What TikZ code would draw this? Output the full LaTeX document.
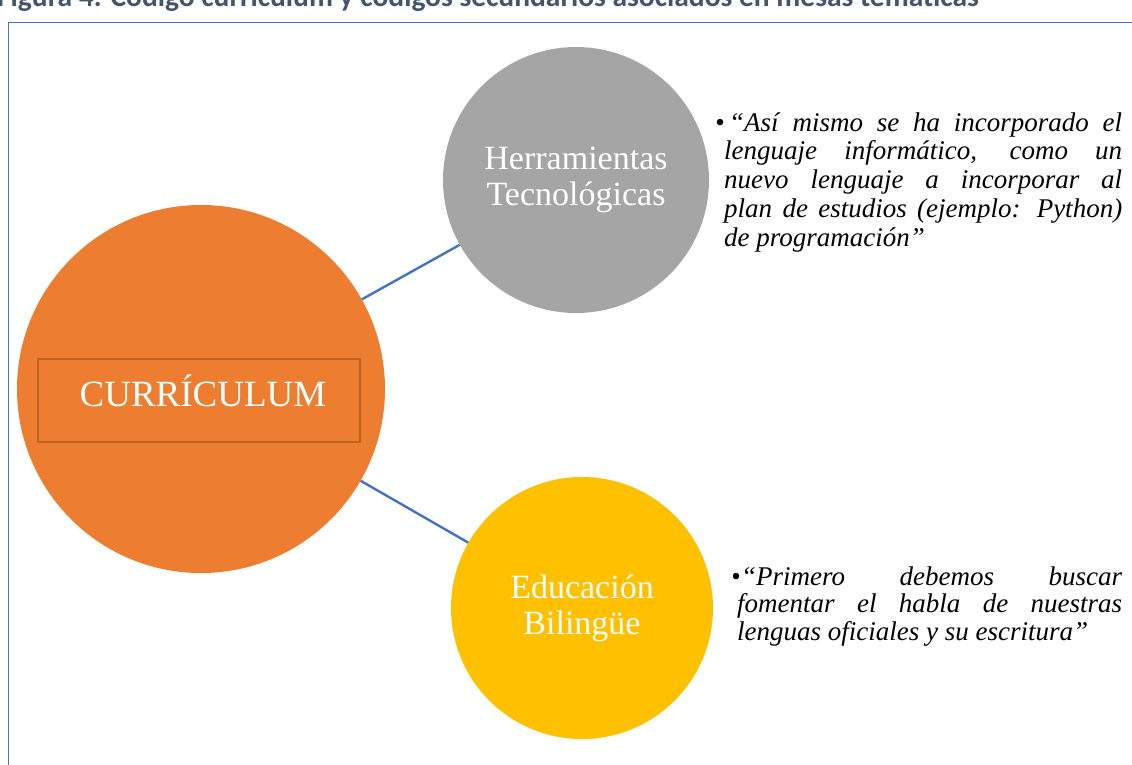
\documentclass[tikz,border=0pt]{standalone}
\usepackage{fontspec}
\setmainfont{Liberation Serif}
\newfontfamily\titlefont{Carlito}
\definecolor{frameblue}{HTML}{4472C4}
\definecolor{orng}{HTML}{ED7D31}
\definecolor{orngdark}{HTML}{C0631F}
\definecolor{gry}{HTML}{A5A5A5}
\definecolor{yel}{HTML}{FFC000}
\definecolor{ttl}{HTML}{44546A}
\tikzset{
  bubble/.style={circle, inner sep=0pt, text=white, align=center, font=\fontsize{34}{36}\selectfont},
  link/.style={draw=frameblue, line width=2.4pt},
  quote/.style={inner sep=0pt, anchor=base west, font=\itshape\fontsize{27}{29}\selectfont},
}
\begin{document}
\begin{tikzpicture}[x=1pt,y=-1pt]
\useasboundingbox (0,0) rectangle (1132,764);
\fill[white] (0,0) rectangle (1132,764);
% title (cut off at top)
\node[anchor=base west, inner sep=0pt, text=ttl, font=\titlefont\bfseries\fontsize{29.5}{29.5}\selectfont] (title) at (-3,6) {Figura 4. Código currículum y códigos secundarios asociados en mesas temáticas};
% frame
\draw[frameblue, line width=1.5pt] (1150,22.5) -- (8.5,22.5) -- (8.5,780);
% circles
\node[bubble, fill=orng, minimum size=368pt] (cur) at (201,389) {};
\node[bubble, fill=gry, minimum size=266pt] (her) at (576,180) {Herramientas\\Tecnológicas};
\node[bubble, fill=yel, minimum size=262pt] (edu) at (582,608) {Educación\\Bilingüe};
% connectors
\draw[link] (cur) -- (her);
\draw[link] (cur) -- (edu);
% inner rectangle
\node[draw=orngdark, line width=2pt, minimum width=322pt, minimum height=83pt, inner sep=0pt] (box) at (199,400.5) {};
\node[anchor=base, inner sep=0pt, text=white, font=\fontsize{37}{37}\selectfont] (curtxt) at (203,406) {CURRÍCULUM};
% quotes
\node[quote] (q1) at (724,131) {\parbox[t]{398pt}{\fontsize{27}{28.8}\selectfont\itshape
\makebox[398pt][s]{\makebox[5pt][l]{\kern-9pt•}“Así mismo se ha incorporado el}\\
\makebox[398pt][s]{lenguaje informático, como un}\\
\makebox[398pt][s]{nuevo lenguaje a incorporar al}\\
\makebox[398pt][s]{plan de estudios (ejemplo: Python)}\\
de programación”}};
\node[quote] (q2) at (737,585) {\parbox[t]{385pt}{\fontsize{27}{27.5}\selectfont\itshape
\makebox[385pt][s]{\makebox[4pt][l]{\kern-6pt•}“Primero debemos buscar}\\
\makebox[385pt][s]{fomentar el habla de nuestras}\\
lenguas oficiales y su escritura”}};
\end{tikzpicture}
\end{document}
